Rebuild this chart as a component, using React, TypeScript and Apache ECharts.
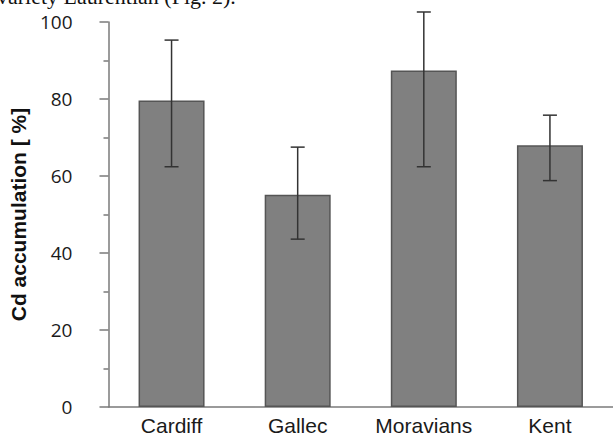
import React, { useEffect, useRef } from "react";
import * as echarts from "echarts";

const categories = ["Cardiff", "Gallec", "Moravians", "Kent"];
const means = [79.6, 55.1, 87.4, 68.0];
const errLow = [62.4, 43.6, 62.4, 58.8];
const errHigh = [95.3, 67.5, 102.6, 75.8];
const yTicks = [0, 20, 40, 60, 80, 100];
const yAxisTitle = "Cd accumulation [ %]";
const headerText = "variety Laurentian (Fig. 2).";

export default function App() {
  const ref = useRef<HTMLDivElement>(null);
  useEffect(() => {
    if (!ref.current) return;
    const chart = echarts.init(ref.current, null, { renderer: "svg" });
    const errData = categories.map((_, i) => [i, errLow[i], errHigh[i]]);
    chart.setOption({
      animation: false,
      backgroundColor: "#ffffff",
      grid: { left: 108, right: -8, top: 22, bottom: 31, containLabel: false },
      graphic: [
        {
          type: "text",
          x: -3,
          y: -4,
          style: {
            text: headerText,
            font: "22px 'Liberation Serif', 'Times New Roman', serif",
            fill: "#111",
            verticalAlign: "middle",
          },
        },
      ],
      xAxis: {
        type: "category",
        data: categories,
        axisLine: { lineStyle: { color: "#7a7a7a", width: 1.5 } },
        axisTick: { show: false },
        axisLabel: {
          color: "#1a1a1a",
          fontFamily: "'Liberation Sans', Arial, sans-serif",
          fontSize: 21,
          margin: 8,
        },
      },
      yAxis: {
        type: "value",
        min: yTicks[0],
        max: yTicks[yTicks.length - 1],
        interval: 20,
        name: yAxisTitle,
        nameLocation: "middle",
        nameGap: 73,
        nameTextStyle: {
          color: "#111",
          fontFamily: "'Liberation Sans', Arial, sans-serif",
          fontWeight: "bold",
          fontSize: 21,
        },
        axisLine: { show: true, lineStyle: { color: "#7a7a7a", width: 1.5 } },
        axisTick: { show: true, length: 9, lineStyle: { color: "#7a7a7a", width: 1.5 } },
        minorTick: { show: true, splitNumber: 2, length: 5, lineStyle: { color: "#7a7a7a", width: 1.5 } },
        splitLine: { show: false },
        axisLabel: {
          color: "#1a1a1a",
          fontFamily: "'Open Sans', sans-serif",
          fontSize: 19,
          margin: 36,
          padding: [8, 0, 0, 0],
        },
      },
      series: [
        {
          type: "bar",
          data: means,
          barWidth: 66,
          itemStyle: { color: "#808080", borderColor: "#555555", borderWidth: 1.5 },
        },
        {
          type: "custom",
          clip: false,
          z: 10,
          encode: { x: 0, y: [1, 2] },
          data: errData,
          renderItem: (params: any, api: any) => {
            const i = api.value(0);
            const lo = api.coord([i, api.value(1)]);
            const hi = api.coord([i, api.value(2)]);
            const hw = 7;
            const style = { stroke: "#333333", lineWidth: 1.5 };
            return {
              type: "group",
              children: [
                { type: "line", shape: { x1: hi[0], y1: hi[1], x2: lo[0], y2: lo[1] }, style },
                { type: "line", shape: { x1: hi[0] - hw, y1: hi[1], x2: hi[0] + hw, y2: hi[1] }, style },
                { type: "line", shape: { x1: lo[0] - hw, y1: lo[1], x2: lo[0] + hw, y2: lo[1] }, style },
              ],
            };
          },
        },
      ],
    });
    return () => chart.dispose();
  }, []);
  return (
    <div
      ref={ref}
      style={{ position: "fixed", left: 0, top: 0, width: 613, height: 438, background: "#fff" }}
    />
  );
}
